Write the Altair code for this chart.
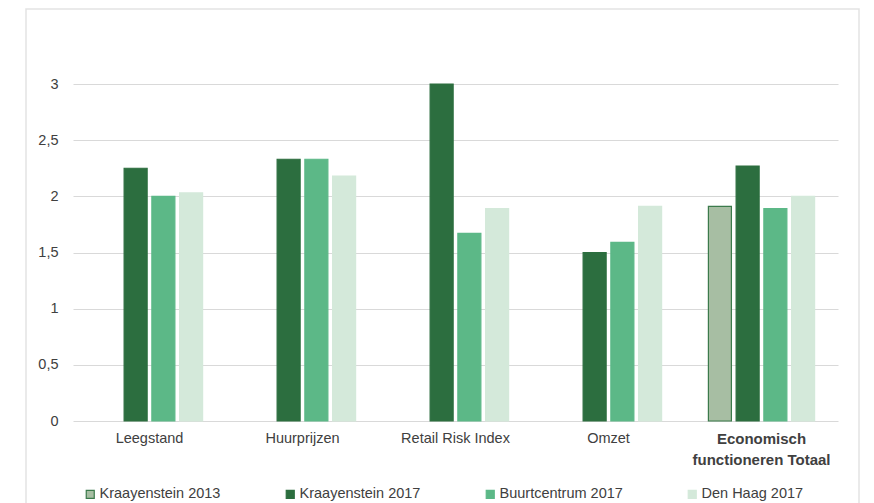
import altair as alt
import pandas as pd

categories = ["Leegstand", "Huurprijzen", "Retail Risk Index", "Omzet",
              "Economisch functioneren Totaal"]
series = ["Kraayenstein 2013", "Kraayenstein 2017", "Buurtcentrum 2017", "Den Haag 2017"]
kraayenstein_2013 = [None, None, None, None, 1.91]
kraayenstein_2017 = [2.25, 2.33, 3.00, 1.50, 2.27]
buurtcentrum_2017 = [2.00, 2.33, 1.67, 1.59, 1.89]
den_haag_2017 = [2.03, 2.18, 1.89, 1.91, 2.00]
y_ticks = [0, 0.5, 1, 1.5, 2, 2.5, 3]

fill_colors = ["#a7bea3", "#2c6e3f", "#5cb887", "#d4e9da"]
stroke_colors = ["#3b7a4b", "#2c6e3f", "#5cb887", "#d4e9da"]

rows = []
for s, vals in zip(series, [kraayenstein_2013, kraayenstein_2017,
                            buurtcentrum_2017, den_haag_2017]):
    for c, v in zip(categories, vals):
        if v is not None:
            rows.append({"categorie": c, "reeks": s, "waarde": v})
df = pd.DataFrame(rows)

W, H = 765, 337
FONT = "Liberation Sans"
TOT = "datum.value == 'Economisch functioneren Totaal'"

legend_opts = dict(title=None, orient="none", legendX=10, legendY=403,
                   direction="horizontal", columns=4, columnPadding=62,
                   symbolType="square", symbolSize=64, symbolStrokeWidth=1.2,
                   labelFont=FONT, labelFontSize=14.5, labelColor="#404040",
                   labelOffset=2)

bars = alt.Chart(df).mark_bar(strokeWidth=1.2).encode(
    x=alt.X("categorie:N", sort=categories, title=None,
            scale=alt.Scale(paddingInner=0.275, paddingOuter=0.1375),
            axis=alt.Axis(
                labelAngle=0, ticks=False, domain=False, grid=False,
                labelPadding=10, labelFont=FONT, labelColor="#404040",
                labelLineHeight=21, labelLimit=300,
                labelFontSize={"expr": TOT + " ? 15 : 14.5"},
                labelFontWeight={"expr": TOT + " ? 'bold' : 'normal'"},
                labelExpr=TOT + " ? ['Economisch', 'functioneren Totaal'] : datum.value",
            )),
    xOffset=alt.XOffset("reeks:N", sort=series,
                        scale=alt.Scale(domain=series, paddingInner=0.17, paddingOuter=0.085)),
    y=alt.Y("waarde:Q", title=None,
            scale=alt.Scale(domain=[0, 3], nice=False),
            axis=alt.Axis(values=y_ticks, ticks=False, domain=False,
                          labelPadding=15, labelFont=FONT, labelFontSize=14.5,
                          labelColor="#404040", gridColor="#d9d9d9", gridWidth=1.2,
                          labelExpr="replace(format(datum.value, '~g'), '.', ',')")),
    fill=alt.Fill("reeks:N", sort=series,
                  scale=alt.Scale(domain=series, range=fill_colors),
                  legend=alt.Legend(**legend_opts)),
    stroke=alt.Stroke("reeks:N", sort=series,
                      scale=alt.Scale(domain=series, range=stroke_colors),
                      legend=alt.Legend(**legend_opts)),
)

frame = alt.Chart(alt.Data(values=[{}])).mark_rect(
    fill="transparent", stroke="#e3e3e3", strokeWidth=1.5
).encode(
    x=alt.value(-47), x2=alt.value(786), y=alt.value(-75), y2=alt.value(440)
)

chart = alt.layer(frame, bars).properties(
    width=W, height=H, background="white",
    padding={"left": 17, "top": 0, "right": 5, "bottom": 5},
).configure_view(stroke=None)

chart.save("out.html", embed_options={"renderer": "svg", "actions": False})
